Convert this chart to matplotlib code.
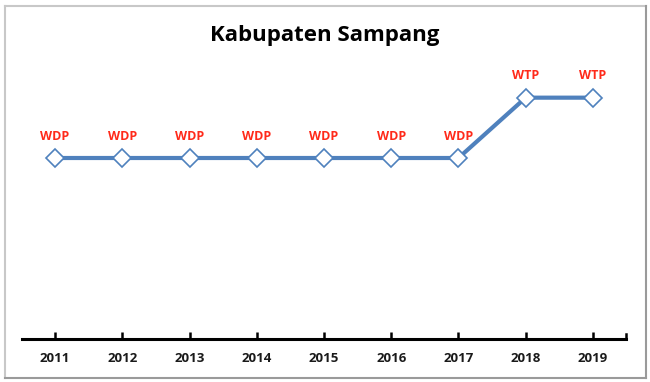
import matplotlib
matplotlib.use("Agg")
import matplotlib.pyplot as plt
from matplotlib.lines import Line2D

years = ["2011", "2012", "2013", "2014", "2015", "2016", "2017", "2018", "2019"]
opinion_level = [3, 3, 3, 3, 3, 3, 3, 4, 4]
opinion_labels = ["WDP", "WDP", "WDP", "WDP", "WDP", "WDP", "WDP", "WTP", "WTP"]
title = "Kabupaten Sampang"

plt.rcParams['font.family'] = ['Open Sans', 'DejaVu Sans']

W, H = 650, 382
fig = plt.figure(figsize=(W / 100, H / 100), dpi=100)
fig.patch.set_facecolor("white")

# outer frame
def px(x, y):
    return x / W, 1 - y / H
x0, y0, x1, y1 = 4.5, 5.5, 645.5, 377.5
for (a, b, c) in [((x0, y0), (x1, y0), "#C8C8C8"), ((x0, y0), (x0, y1), "#C8C8C8"),
                  ((x1, y0), (x1, y1), "#9A9A9A"), ((x0, y1), (x1, y1), "#9A9A9A")]:
    p, q = px(*a), px(*b)
    fig.add_artist(Line2D([p[0], q[0]], [p[1], q[1]], color=c, lw=1.5, transform=fig.transFigure))

left_px, right_px = 21.5, 626.5
bottom_px = 339
ymax = 4.6
unit = (339 - 158) / 3.0
top_px = bottom_px - unit * ymax
ax = fig.add_axes([left_px / W, 1 - bottom_px / H, (right_px - left_px) / W, (bottom_px - top_px) / H])
ax.set_facecolor("none")

x = list(range(len(years)))
ax.plot(x, opinion_level, color="#4F81BD", lw=3, marker="D", markersize=9.5,
        markerfacecolor="white", markeredgecolor="#4F81BD", markeredgewidth=1.2, zorder=3,
        solid_capstyle="butt")
for xi, yi, lab in zip(x, opinion_level, opinion_labels):
    ax.annotate(lab, (xi, yi), xytext=(0, 11), textcoords="offset points", ha="center", va="bottom",
                color="#FF2A1A", fontsize=9, fontweight="bold")

ax.set_xlim(-0.5, len(years) - 0.5)
ax.set_ylim(0, ymax)
for s in ["left", "right", "top"]:
    ax.spines[s].set_visible(False)
ax.spines["bottom"].set_linewidth(2.2)
ax.spines["bottom"].set_color("black")
ax.set_yticks([])
ax.set_xticks(x)
ax.set_xticklabels(years, fontsize=9.5, fontweight="bold", color="#1a1a1a")
ax.tick_params(axis="x", direction="in", length=5, width=1.8, pad=9, color="black")
# end tick at the right end of the axis
ax.plot([len(years) - 0.5, len(years) - 0.5], [0, 0.08], color="black", lw=1.8, clip_on=False)

fig.text(0.5, 1 - 35 / H, title, ha="center", va="center", fontsize=16,
         fontweight="bold", color="black")

fig.savefig("out.png", dpi=100)
